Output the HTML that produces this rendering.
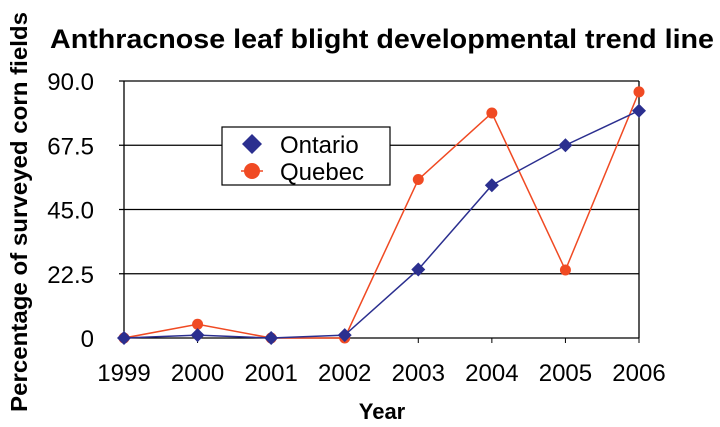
<!DOCTYPE html>
<html><head><meta charset="utf-8"><style>
body{margin:0;background:#fff;}
svg{display:block;font-family:"Liberation Sans",Arial,sans-serif;}
</style></head><body>
<svg id="chart" width="720" height="427">
<text x="382" y="48" text-anchor="middle" font-size="27" font-weight="bold" textLength="664" lengthAdjust="spacingAndGlyphs">Anthracnose leaf blight developmental trend line</text>
<text transform="translate(27,212) rotate(-90)" text-anchor="middle" font-size="23" font-weight="bold" textLength="400" lengthAdjust="spacingAndGlyphs">Percentage of surveyed corn fields</text>
<text x="382" y="419" text-anchor="middle" font-size="22" font-weight="bold">Year</text>
<g id="grid"></g><g id="series"></g>
</svg>
<script>
const years=["1999","2000","2001","2002","2003","2004","2005","2006"];
const ontario=[0,1,0,1,24,53.5,67.5,79.6];
const quebec=[0,4.8,0,0,55.5,78.8,23.8,86.2];
const yTicks=[0,22.5,45,67.5,90];
const yTickLabels=["0","22.5","45.0","67.5","90.0"];
const NS="http://www.w3.org/2000/svg";
const L=124,R=639,T=81,B=338;
const xs=i=>L+(R-L)*i/(years.length-1);
const ys=v=>B-(B-T)*v/90;
function mk(tag,attrs,parent){const e=document.createElementNS(NS,tag);for(const k in attrs)e.setAttribute(k,attrs[k]);parent.appendChild(e);return e;}
const g=document.getElementById('grid'),s=document.getElementById('series');
yTicks.forEach((v,i)=>{
 const ln=mk('line',{x1:L-5,x2:R,y1:ys(v),y2:ys(v),stroke:'#000','stroke-width':1.3},g);
 
 
 const t=mk('text',{x:L-30,y:ys(v)+9,'text-anchor':'end','font-size':24},g);t.textContent=yTickLabels[i];
 
 
});
const ax=mk('line',{x1:L,x2:L,y1:T,y2:B,stroke:'#000','stroke-width':1.3},g);


const rx=mk('line',{x1:R,x2:R,y1:T,y2:B,stroke:'#000','stroke-width':1.3},g);


years.forEach((y,i)=>{
 const tk=mk('line',{x1:xs(i),x2:xs(i),y1:B,y2:B+5,stroke:'#000'},g);
 
 
 const t=mk('text',{x:xs(i),y:B+43,'text-anchor':'middle','font-size':24},g);t.textContent=y;
 
 
});
function diamond(cx,cy,r){return `M${cx},${cy-r}L${cx+r},${cy}L${cx},${cy+r}L${cx-r},${cy}Z`;}
function line(data,color,w,name){
 const p=mk('polyline',{points:data.map((v,i)=>xs(i)+','+ys(v)).join(' '),fill:'none',stroke:color,'stroke-width':w},s);
 
 
}
line(quebec,'#f04a23',1.5,'quebec');
line(ontario,'#2b2f8f',1.5,'ontario');
quebec.forEach((v,i)=>{const c=mk('circle',{cx:xs(i),cy:ys(v),r:5.5,fill:'#f04a23'},s);
 
 });
ontario.forEach((v,i)=>{const d=mk('path',{d:diamond(xs(i),ys(v),7),fill:'#2b2f8f'},s);
 
 });
const lg=mk('g',{},s);


mk('rect',{x:222,y:127,width:168,height:58,fill:'#fff',stroke:'#000','stroke-width':1.2},lg);
mk('path',{d:diamond(252,144,10),fill:'#2b2f8f'},lg);
const e1=mk('text',{x:280,y:153,'font-size':24},lg);e1.textContent='Ontario';


mk('circle',{cx:252,cy:171,r:8,fill:'#f04a23'},lg);
mk('line',{x1:241,x2:263,y1:171,y2:171,stroke:'#f04a23','stroke-width':1.5},lg);
const e2=mk('text',{x:280,y:180,'font-size':24},lg);e2.textContent='Quebec';


</script>
</body></html>
